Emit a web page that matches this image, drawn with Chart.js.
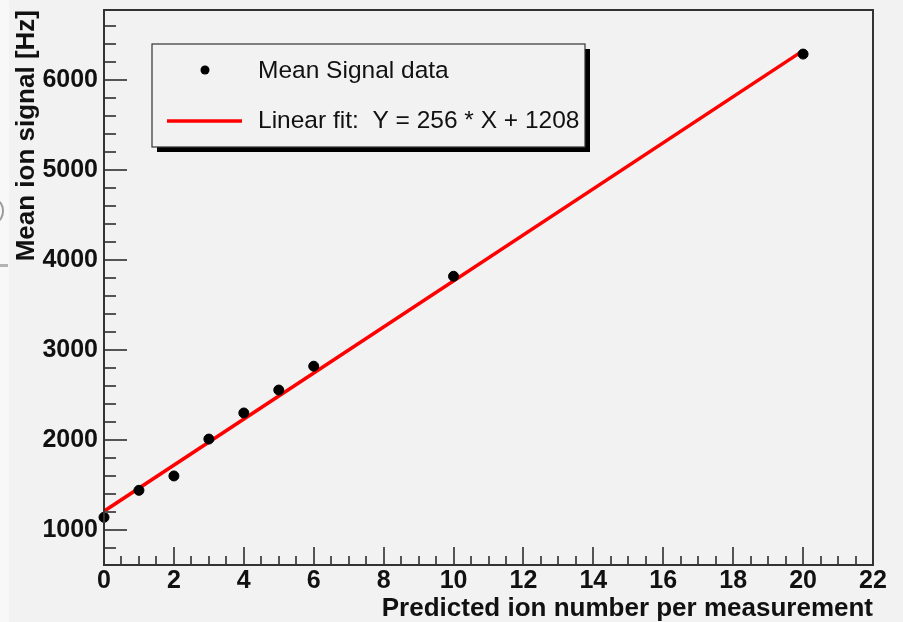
<!DOCTYPE html>
<html>
<head>
<meta charset="utf-8">
<title>Mean ion signal vs predicted ion number</title>
<script src="https://cdn.jsdelivr.net/npm/chart.js@4.4.1/dist/chart.umd.min.js"></script>
<style>
    html, body { margin: 0; padding: 0; background: #f2f2f2; }
    #wrap { position: relative; width: 903px; height: 622px; }
    #strip { position: absolute; left: 0; top: 0; width: 9px; height: 622px; background: #f8f8f8; }
    #stripLine { position: absolute; left: 0; top: 264px; width: 8px; height: 3px; background: #b4b4b4; }
    #stripArc { position: absolute; left: -10px; top: 200px; width: 10px; height: 18px; border: 2px solid #9a9a9a; border-radius: 50%; }
    canvas { position: absolute; left: 0; top: 0; }
</style>
</head>
<body>
<div id="wrap">
    <div id="strip"></div>
    <div id="stripLine"></div>
    <div id="stripArc"></div>
    <canvas id="ionChart" width="903" height="622"></canvas>
</div>
<script>
// measured points
const ionNumber = [0, 1, 2, 3, 4, 5, 6, 10, 20];
const meanSignal = [1140, 1440, 1600, 2010, 2300, 2555, 2820, 3820, 6290];

// linear fit end points (Y = 256 * X + 1208)
const fitX = [0, 20];
const fitY = [1208, 6328];

// axis tick labels
const xTickValues = [0, 2, 4, 6, 8, 10, 12, 14, 16, 18, 20, 22];
const yTickValues = [1000, 2000, 3000, 4000, 5000, 6000];

const FONT = "'Liberation Sans', Arial, Helvetica, sans-serif";

// ROOT style frame with inward ticks
const framePlugin = {
    id: 'frame',
    afterDatasetsDraw(chart) {
        const ctx = chart.ctx;
        const a = chart.chartArea;
        const xs = chart.scales.x;
        const ys = chart.scales.y;
        ctx.save();
        ctx.strokeStyle = '#555';
        ctx.lineWidth = 2;
        ctx.beginPath();
        for (let v = xs.min; v <= xs.max + 1e-9; v += 0.5) {
            const px = Math.round(xs.getPixelForValue(v));
            const len = (Math.abs(v % 2) < 1e-9) ? 18 : 9;
            ctx.moveTo(px, a.bottom);
            ctx.lineTo(px, a.bottom - len);
        }
        for (let v = 800; v <= ys.max; v += 200) {
            const py = Math.round(ys.getPixelForValue(v));
            const len = (v % 1000 === 0) ? 23 : 12;
            ctx.moveTo(a.left, py);
            ctx.lineTo(a.left + len, py);
        }
        ctx.stroke();

        ctx.strokeStyle = '#333';
        ctx.lineWidth = 2;
        ctx.strokeRect(a.left, a.top, a.right - a.left, a.bottom - a.top);
        ctx.restore();
    }
};

const legendPlugin = {
    id: 'boxLegend',
    afterDraw(chart) {
        const ctx = chart.ctx;
        const ds = chart.data.datasets;
        const bx = 152, by = 44, bw = 433, bh = 103;
        ctx.save();
        ctx.fillStyle = '#000';
        ctx.fillRect(bx + 5, by + 5, bw, bh);
        ctx.fillStyle = '#f2f2f2';
        ctx.fillRect(bx, by, bw, bh);
        ctx.strokeStyle = '#333';
        ctx.lineWidth = 1.2;
        ctx.strokeRect(bx, by, bw, bh);

        // marker entry
        ctx.fillStyle = ds[1].backgroundColor;
        ctx.beginPath();
        ctx.arc(205, 70, 4.5, 0, Math.PI * 2);
        ctx.fill();
        // line entry
        ctx.strokeStyle = ds[0].borderColor;
        ctx.lineWidth = 3.5;
        ctx.beginPath();
        ctx.moveTo(167, 121);
        ctx.lineTo(242, 121);
        ctx.stroke();

        ctx.fillStyle = '#111';
        ctx.font = '24.5px ' + FONT;
        ctx.textBaseline = 'middle';
        ctx.textAlign = 'left';
        ctx.fillText(ds[1].label, 258, 71);
        ctx.fillText(ds[0].label, 258, 121);
        ctx.restore();
    }
};

function fixWidth(w) {
    return function (scale) {
        scale.width = w;
        scale.paddingTop = 0;
        scale.paddingBottom = 0;
    };
}

function fixHeight(h) {
    return function (scale) {
        scale.height = h;
        scale.paddingLeft = 0;
        scale.paddingRight = 0;
    };
}

new Chart(document.getElementById('ionChart'), {
    type: 'scatter',
    data: {
        datasets: [{
            type: 'line',
            label: 'Linear fit:  Y = 256 * X + 1208',
            data: fitX.map((x, i) => ({ x: x, y: fitY[i] })),
            borderColor: '#ff0000',
            backgroundColor: '#ff0000',
            borderWidth: 3.5,
            pointRadius: 0,
            fill: false,
            order: 2
        }, {
            label: 'Mean Signal data',
            data: ionNumber.map((x, i) => ({ x: x, y: meanSignal[i] })),
            backgroundColor: '#000',
            borderColor: '#000',
            pointRadius: 5,
            pointHoverRadius: 5,
            clip: false,
            order: 1
        }]
    },
    options: {
        responsive: false,
        animation: false,
        layout: {
            padding: { left: 0, right: 30, top: 10, bottom: 0 }
        },
        plugins: {
            legend: { display: false },
            tooltip: { enabled: false }
        },
        scales: {
            x: {
                type: 'linear',
                min: 0,
                max: 22,
                afterBuildTicks: (scale) => { scale.ticks = xTickValues.map(v => ({ value: v })); },
                afterFit: fixHeight(57),
                grid: { display: false, drawTicks: false },
                border: { display: false },
                ticks: {
                    padding: 1,
                    color: '#111',
                    maxRotation: 0,
                    callback: (v) => String(v),
                    font: { family: FONT, size: 25, weight: 'bold' }
                },
                title: {
                    display: true,
                    text: 'Predicted ion number per measurement',
                    align: 'end',
                    color: '#111',
                    padding: { top: 0, bottom: 0 },
                    font: { family: FONT, size: 26, weight: 'bold', lineHeight: 1 }
                }
            },
            y: {
                type: 'linear',
                min: 610,
                max: 6780,
                afterBuildTicks: (scale) => { scale.ticks = yTickValues.map(v => ({ value: v })); },
                afterFit: fixWidth(104),
                grid: { display: false, drawTicks: false },
                border: { display: false },
                ticks: {
                    padding: 6,
                    color: '#111',
                    callback: (v) => String(v),
                    font: { family: FONT, size: 25, weight: 'bold' }
                },
                title: {
                    display: true,
                    text: 'Mean ion signal [Hz]',
                    align: 'end',
                    color: '#111',
                    padding: { top: 14, bottom: 0 },
                    font: { family: FONT, size: 26, weight: 'bold', lineHeight: 1 }
                }
            }
        }
    },
    plugins: [framePlugin, legendPlugin]
});
</script>
</body>
</html>
